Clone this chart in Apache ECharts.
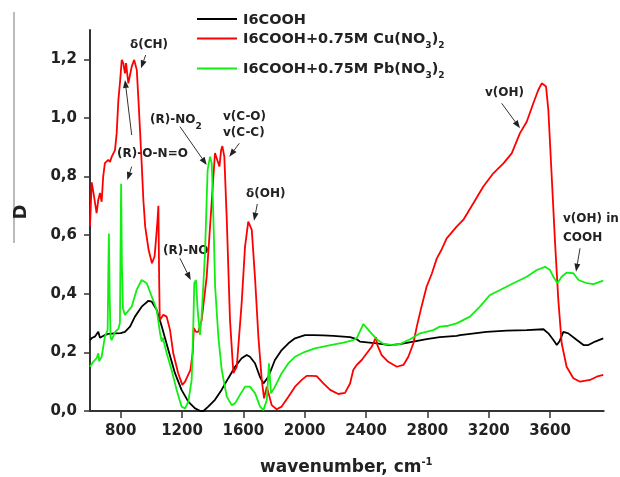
<!DOCTYPE html>
<html><head><meta charset="utf-8">
<script src="https://cdn.jsdelivr.net/npm/echarts@6/dist/echarts.min.js"></script>
<style>html,body{margin:0;padding:0;background:#fff}#c{width:620px;height:477px}</style>
</head><body><div id="c"></div>
<script>
const xTicks = [800,1200,1600,2000,2400,2800,3200,3600];
const yTicks = [0,0.2,0.4,0.6,0.8,1.0,1.2];
const seriesNames = ['I6COOH','I6COOH+0.75M Cu(NO3)2','I6COOH+0.75M Pb(NO3)2'];
const legendLabels = ['I6COOH','I6COOH+0.75M Cu(NO{s|3}){s|2}','I6COOH+0.75M Pb(NO{s|3}){s|2}'];

const blackData = [
[600,0.242],[615,0.25],[632,0.254],[643,0.262],[654,0.27],[665,0.25],[676,0.254],[700,0.26],[719,0.263],[763,0.265],[800,0.266],[828,0.27],[861,0.288],[893,0.322],[937,0.356],[981,0.376],[1003,0.373],[1035,0.345],[1068,0.288],[1111,0.208],[1154,0.129],[1197,0.072],[1241,0.032],[1285,0.009],[1320,0.0],[1340,0.0],[1371,0.015],[1415,0.038],[1458,0.072],[1502,0.112],[1546,0.151],[1589,0.18],[1622,0.191],[1643,0.185],[1676,0.163],[1708,0.117],[1731,0.094],[1763,0.117],[1806,0.174],[1850,0.208],[1894,0.231],[1937,0.248],[2002,0.259],[2056,0.259],[2120,0.258],[2187,0.256],[2296,0.252],[2339,0.245],[2360,0.237],[2470,0.231],[2556,0.225],[2621,0.228],[2709,0.237],[2795,0.245],[2881,0.252],[2991,0.256],[3013,0.259],[3186,0.27],[3317,0.274],[3448,0.276],[3557,0.279],[3589,0.265],[3622,0.242],[3644,0.225],[3661,0.237],[3687,0.27],[3719,0.265],[3775,0.242],[3818,0.225],[3850,0.225],[3894,0.237],[3947,0.248]
];
const redData = [
[600,0.63],[611,0.78],[621,0.75],[632,0.754],[643,0.675],[654,0.72],[665,0.744],[676,0.714],[686,0.80],[697,0.846],[708,0.84],[719,0.857],[730,0.85],[742,0.868],[763,0.89],[774,0.948],[785,1.061],[796,1.124],[807,1.198],[817,1.187],[828,1.152],[835,1.187],[850,1.118],[861,1.124],[872,1.175],[888,1.198],[905,1.164],[916,1.061],[927,0.948],[938,0.834],[948,0.72],[960,0.629],[968,0.6],[982,0.55],[1004,0.504],[1021,0.527],[1032,0.595],[1040,0.65],[1046,0.70],[1051,0.45],[1055,0.31],[1078,0.328],[1100,0.322],[1122,0.276],[1143,0.197],[1175,0.129],[1202,0.089],[1220,0.10],[1255,0.14],[1270,0.2],[1277,0.283],[1291,0.27],[1306,0.27],[1328,0.31],[1361,0.458],[1393,0.709],[1415,0.88],[1426,0.885],[1444,0.834],[1455,0.89],[1463,0.904],[1476,0.868],[1492,0.652],[1513,0.31],[1535,0.129],[1557,0.151],[1589,0.368],[1611,0.561],[1632,0.646],[1655,0.618],[1677,0.447],[1698,0.254],[1720,0.106],[1735,0.043],[1753,0.083],[1785,0.02],[1817,0.006],[1850,0.015],[1894,0.049],[1937,0.083],[1981,0.106],[2013,0.12],[2046,0.12],[2078,0.119],[2122,0.094],[2166,0.072],[2219,0.058],[2263,0.062],[2296,0.094],[2317,0.14],[2339,0.157],[2372,0.174],[2405,0.197],[2437,0.219],[2465,0.252],[2474,0.225],[2502,0.191],[2545,0.168],[2601,0.151],[2644,0.157],[2676,0.185],[2709,0.231],[2731,0.288],[2759,0.35],[2795,0.424],[2830,0.47],[2861,0.52],[2894,0.552],[2926,0.589],[2991,0.629],[3034,0.652],[3100,0.709],[3165,0.766],[3230,0.811],[3296,0.845],[3350,0.879],[3404,0.948],[3448,0.987],[3491,1.05],[3524,1.096],[3546,1.118],[3557,1.124],[3574,1.107],[3589,1.027],[3611,0.80],[3633,0.572],[3654,0.379],[3676,0.231],[3708,0.151],[3752,0.112],[3796,0.10],[3861,0.106],[3904,0.117],[3947,0.123]
];
const greenData = [
[600,0.151],[621,0.168],[643,0.18],[654,0.197],[660,0.17],[676,0.185],[697,0.254],[715,0.276],[719,0.45],[723,0.606],[728,0.4],[734,0.25],[741,0.242],[763,0.27],[785,0.28],[795,0.3],[800,0.6],[803,0.775],[808,0.5],[815,0.35],[828,0.328],[872,0.356],[904,0.413],[937,0.447],[970,0.436],[1003,0.39],[1035,0.345],[1057,0.265],[1068,0.237],[1075,0.25],[1100,0.197],[1132,0.14],[1165,0.072],[1197,0.015],[1220,0.009],[1241,0.032],[1263,0.106],[1274,0.3],[1280,0.436],[1291,0.447],[1302,0.345],[1317,0.26],[1328,0.322],[1350,0.538],[1367,0.823],[1383,0.868],[1394,0.845],[1405,0.652],[1416,0.424],[1437,0.254],[1459,0.14],[1492,0.049],[1524,0.02],[1546,0.026],[1578,0.055],[1611,0.083],[1643,0.083],[1677,0.06],[1709,0.015],[1731,0.003],[1753,0.038],[1767,0.163],[1780,0.06],[1806,0.083],[1850,0.129],[1894,0.163],[1937,0.185],[2002,0.202],[2067,0.214],[2144,0.222],[2252,0.233],[2317,0.242],[2339,0.248],[2345,0.25],[2383,0.297],[2426,0.27],[2470,0.245],[2513,0.229],[2578,0.225],[2621,0.228],[2687,0.245],[2752,0.265],[2839,0.276],[2881,0.288],[2926,0.29],[2991,0.299],[3078,0.322],[3143,0.356],[3209,0.396],[3274,0.413],[3361,0.436],[3448,0.458],[3514,0.481],[3568,0.492],[3600,0.481],[3622,0.458],[3648,0.436],[3676,0.458],[3708,0.472],[3752,0.47],[3786,0.447],[3840,0.436],[3883,0.433],[3947,0.445]
];
const colors = ['#000000','#ff0000','#11ee11'];

const FONT = '"DejaVu Sans", sans-serif';
const chart = echarts.init(document.getElementById('c'), null, {renderer:'canvas'});

function arrow(x1,y1,x2,y2){
  const dx=x2-x1, dy=y2-y1, L=Math.hypot(dx,dy), ux=dx/L, uy=dy/L;
  const hl=8, hw=3;
  const bx=x2-ux*hl, by=y2-uy*hl;
  return [
    {type:'line', shape:{x1:x1,y1:y1,x2:bx,y2:by}, style:{stroke:'#333',lineWidth:1}},
    {type:'polygon', shape:{points:[[x2,y2],[bx-uy*hw,by+ux*hw],[bx+uy*hw,by-ux*hw]]}, style:{fill:'#222'}}
  ];
}
function label(x,y,text,size){
  return {type:'text', x:x, y:y, style:{text:text, font:'bold '+(size||12)+'px '+FONT, fill:'#222',
    textVerticalAlign:'middle', textAlign:'left', lineHeight:22,
    rich:{s:{font:'bold 9px '+FONT, fill:'#222', verticalAlign:'bottom', lineHeight:11},
          p:{font:'bold 10px '+FONT, fill:'#222', verticalAlign:'top', lineHeight:10}}}};
}

const graphics = [];
graphics.push({type:'line', shape:{x1:14,y1:12,x2:14,y2:243}, style:{stroke:'#777',lineWidth:1}});
graphics.push({type:'text', x:21, y:212, rotation:Math.PI/2, style:{text:'D', font:'bold 18px '+FONT, fill:'#222', textAlign:'center', textVerticalAlign:'middle'}});
graphics.push({type:'text', x:260, y:468, style:{text:'wavenumber, cm{p|-1}', font:'bold 17px '+FONT, fill:'#222', textAlign:'left', textVerticalAlign:'middle', lineHeight:22,
  rich:{p:{font:'bold 10px '+FONT, fill:'#222', verticalAlign:'top', lineHeight:10}}}});
const legendY = [19, 38.5, 68.5];
for (let i=0;i<3;i++){
  graphics.push({type:'line', shape:{x1:197,y1:legendY[i],x2:237,y2:legendY[i]}, style:{stroke:colors[i],lineWidth:1.8}});
  graphics.push({type:'text', x:243, y:legendY[i]+1, style:{text:legendLabels[i], font:'bold 14.5px '+FONT, fill:'#222',
    textAlign:'left', textVerticalAlign:'middle', lineHeight:22,
    rich:{s:{font:'bold 9px '+FONT, fill:'#222', verticalAlign:'bottom', lineHeight:11}}}});
}
graphics.push(label(130,45,'δ(CH)'));
graphics.push(label(117,154,'(R)-O-N=O'));
graphics.push(label(150,120,'(R)-NO{s|2}'));
graphics.push(label(223,117,'v(C-O)'));
graphics.push(label(223,133,'v(C-C)'));
graphics.push(label(246,194,'δ(OH)'));
graphics.push(label(163,251,'(R)-NO'));
graphics.push(label(485,93,'v(OH)'));
graphics.push(label(563,219,'v(OH) in'));
graphics.push(label(563,238,'COOH'));
[[145.7,55,141,68.3],[131.7,135,125,80],[131.7,166.7,127.3,180],[180,126.7,206.7,165],[239.3,143.3,229.3,156.7],
 [257.3,204,254,220.7],[180,258.3,190.7,280],[501.7,103.3,520,128.3],[580,248.3,576,271.7]].forEach(a=>{
  arrow(a[0],a[1],a[2],a[3]).forEach(g=>graphics.push(g));
});

chart.setOption({
  animation:false,
  backgroundColor:'#fff',
  grid:{left:90,top:30,right:16.3,bottom:66,containLabel:false},
  xAxis:{type:'value', min:600, max:3950,
    axisLine:{show:true,onZero:false,lineStyle:{color:'#333',width:2}},
    axisTick:{show:true,length:7,inside:false,lineStyle:{color:'#333',width:1.5},customValues:xTicks},
    axisLabel:{customValues:xTicks, margin:13, color:'#222', fontFamily:FONT, fontWeight:'bold', fontSize:15,
      formatter:v=>String(v)},
    splitLine:{show:false}},
  yAxis:{type:'value', min:0, max:1.3,
    axisLine:{show:true,onZero:false,lineStyle:{color:'#333',width:2}},
    axisTick:{show:true,length:6,inside:false,lineStyle:{color:'#333',width:1.5},customValues:yTicks},
    axisLabel:{customValues:yTicks, margin:13, color:'#222', fontFamily:FONT, fontWeight:'bold', fontSize:15,
      formatter:v=>v.toFixed(1).replace('.',',')},
    splitLine:{show:false}},
  series:[
    {name:seriesNames[0], type:'line', data:blackData, showSymbol:false, lineStyle:{color:colors[0],width:1.8}, itemStyle:{color:colors[0]}},
    {name:seriesNames[1], type:'line', data:redData, showSymbol:false, lineStyle:{color:colors[1],width:1.8}, itemStyle:{color:colors[1]}},
    {name:seriesNames[2], type:'line', data:greenData, showSymbol:false, lineStyle:{color:colors[2],width:1.8}, itemStyle:{color:colors[2]}}
  ],
  graphic:{elements:graphics}
});
</script></body></html>
